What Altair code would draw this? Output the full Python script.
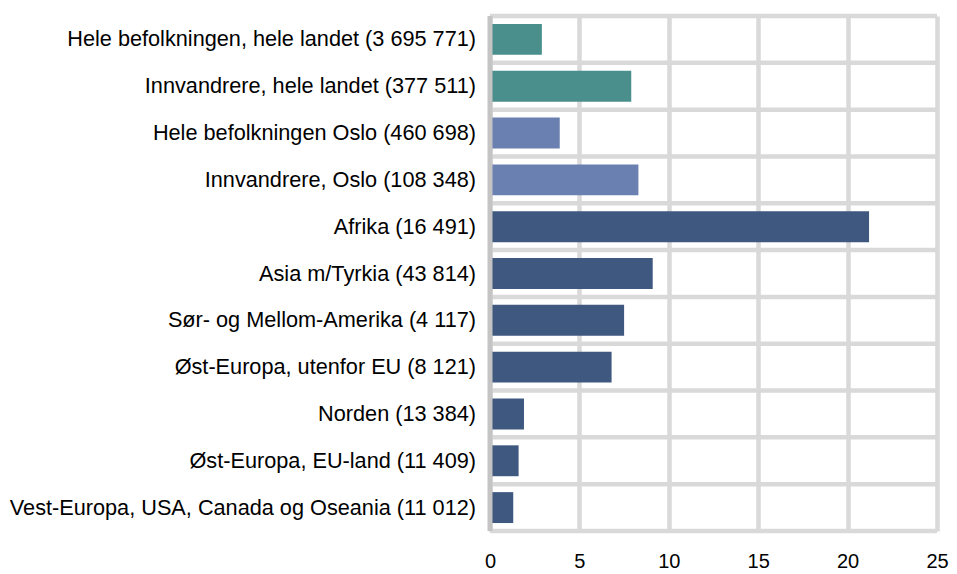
import altair as alt
import pandas as pd

categories = [
    "Hele befolkningen, hele landet (3 695 771)",
    "Innvandrere, hele landet (377 511)",
    "Hele befolkningen Oslo (460 698)",
    "Innvandrere, Oslo (108 348)",
    "Afrika (16 491)",
    "Asia m/Tyrkia  (43 814)",
    "Sør- og Mellom-Amerika (4 117)",
    "Øst-Europa, utenfor EU (8 121)",
    "Norden (13 384)",
    "Øst-Europa, EU-land (11 409)",
    "Vest-Europa, USA, Canada og Oseania (11 012)",
]
values = [2.9, 7.9, 3.9, 8.3, 21.2, 9.1, 7.5, 6.8, 1.9, 1.6, 1.3]
groups = ["land", "land", "oslo", "oslo", "reg", "reg", "reg", "reg", "reg", "reg", "reg"]
group_names = ["land", "oslo", "reg"]
group_colors = ["#4A8F8C", "#6A80B0", "#3E5880"]

df = pd.DataFrame({"kategori": categories, "verdi": values, "gruppe": groups})
df_last = pd.DataFrame({"kategori": [categories[-1]]})

font = "Liberation Sans"
grid_color = "#D9D9D9"

y_scale = alt.Scale(domain=categories, paddingInner=0, paddingOuter=0)

bars = alt.Chart(df).mark_bar(
    height=alt.RelativeBandSize(band=0.66)
).encode(
    y=alt.Y(
        "kategori:N",
        sort=categories,
        title=None,
        scale=y_scale,
        axis=alt.Axis(
            grid=False,
            ticks=False,
            domain=False,
            labelFont=font,
            labelFontSize=21.7,
            labelColor="#000000",
            labelPadding=14.5,
            labelLimit=700,
        ),
    ),
    x=alt.X(
        "verdi:Q",
        title=None,
        scale=alt.Scale(domain=[0, 25], nice=False),
        axis=alt.Axis(
            values=[0, 5, 10, 15, 20, 25],
            grid=True,
            gridColor=grid_color,
            gridWidth=4.5,
            ticks=False,
            domain=False,
            labelFont=font,
            labelFontSize=20,
            labelColor="#000000",
            labelPadding=20,
            labelFlush=False,
        ),
    ),
    color=alt.Color(
        "gruppe:N",
        scale=alt.Scale(domain=group_names, range=group_colors),
        legend=None,
    ),
)

hgrid_top = alt.Chart(df).mark_rule(color=grid_color, strokeWidth=4.5).encode(
    y=alt.Y("kategori:N", sort=categories, scale=y_scale, bandPosition=0, title=None)
)
hgrid_end = alt.Chart(df_last).mark_rule(color=grid_color, strokeWidth=4.5).encode(
    y=alt.Y("kategori:N", sort=categories, scale=y_scale, bandPosition=1, title=None)
)
axis_line = alt.Chart(df_last).mark_rule(color="#C4C4C4", strokeWidth=5).encode(
    x=alt.datum(0)
)

chart = alt.layer(hgrid_top, hgrid_end, bars, axis_line).properties(
    width=941,
    height=566,
    padding={"left": 1, "top": 5, "right": 0, "bottom": 3},
    autosize=alt.AutoSizeParams(type="fit", contains="padding"),
).configure_view(
    stroke=None
)

chart.save("out.html", embed_options={"renderer": "svg", "actions": False})
